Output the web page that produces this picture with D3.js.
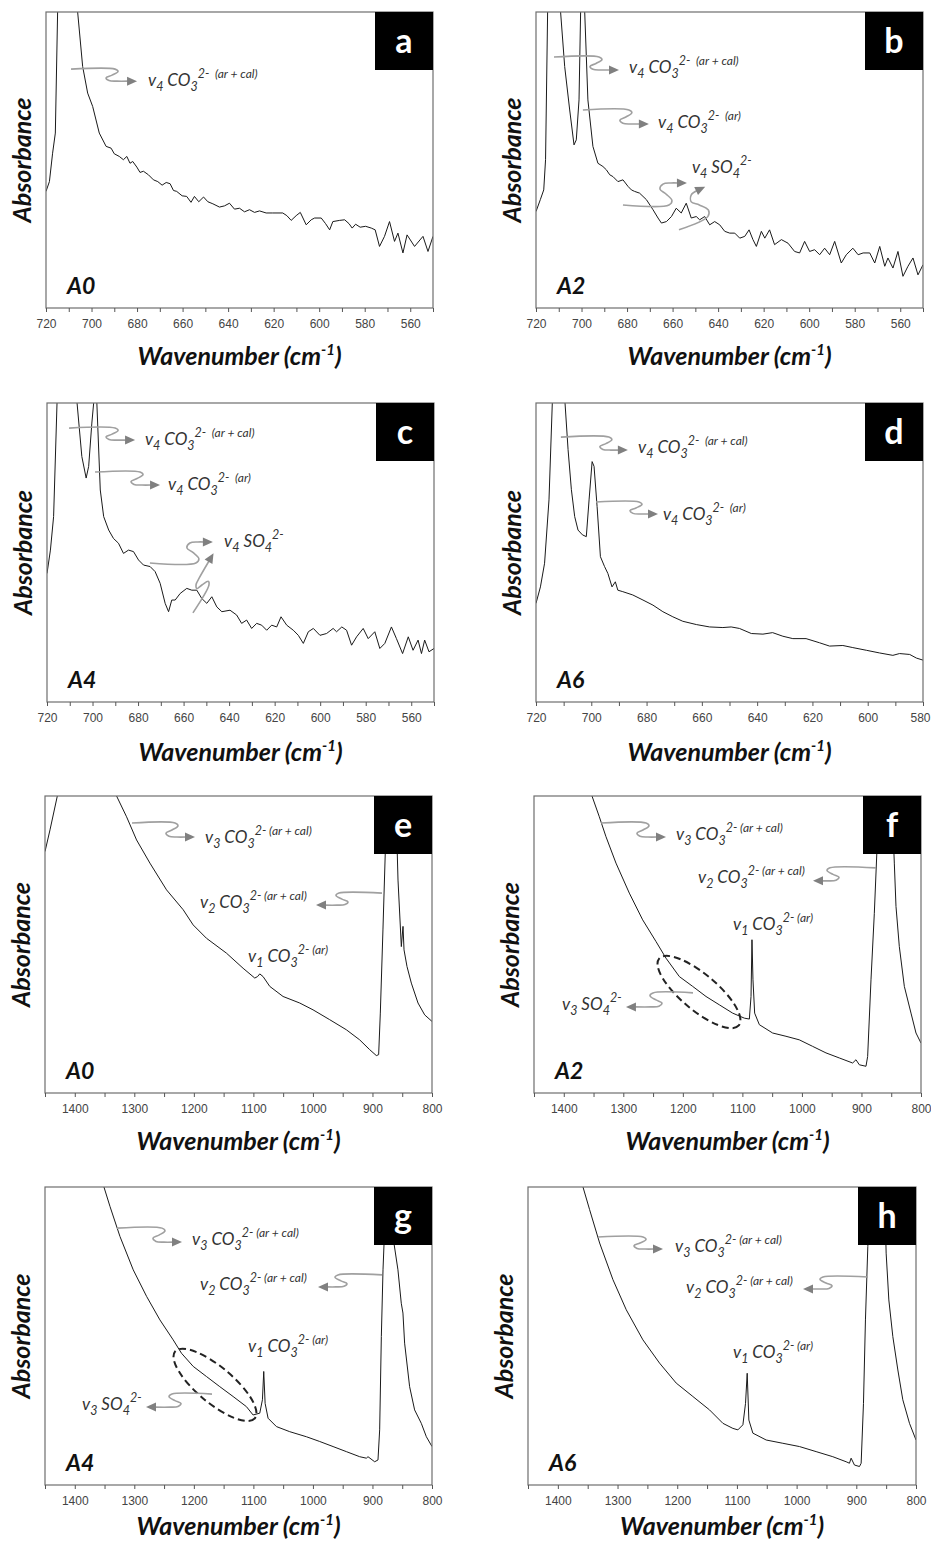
<!DOCTYPE html>
<html>
<head>
<meta charset="utf-8">
<script src="https://cdn.jsdelivr.net/npm/d3@7"></script>
<style>
  body { margin: 0; background: #fff; }
  svg { display: block; font-family: Lato, "Open Sans", sans-serif; }
  .note { white-space: pre; }
</style>
</head>
<body>
<svg id="chart" width="931" height="1546"></svg>
<script>
// spectra: [wavenumber (cm-1), relative absorbance (1 = top of frame)]
const specA0Low = [[720,.394],[718.5,.427],[717.1,.523],[715.9,.591],[714.9,1.0],[712,1.9],[709,1.9],[706.1,1.0],[703.9,.816],[701.7,.726],[699.5,.681],[696.6,.591],[693.6,.546],[691.4,.540],[690,.521],[687.8,.512],[686,.501],[684.5,.512],[683.1,.489],[681.9,.495],[680.1,.476],[678.7,.458],[677.2,.462],[675,.450],[672.8,.433],[670.9,.427],[669,.415],[667.2,.424],[665.5,.420],[664,.397],[662.6,.394],[660.2,.379],[658.2,.377],[656.3,.357],[654.8,.377],[652.9,.359],[650.8,.375],[648.9,.359],[646.7,.352],[643.8,.341],[641.6,.345],[639.4,.354],[637.2,.334],[635,.337],[632.8,.325],[630.6,.332],[628.4,.323],[626.2,.328],[623.3,.321],[620.4,.321],[616,.321],[614.2,.312],[612.3,.296],[610.1,.312],[608.3,.323],[605.7,.281],[603.5,.298],[602,.304],[599.1,.304],[597.2,.285],[595.4,.264],[594,.292],[591,.296],[588.8,.298],[586.9,.285],[585.5,.270],[584,.283],[582,.273],[579.6,.276],[577.1,.270],[575.4,.264],[573.5,.208],[571.3,.242],[569.1,.292],[566.9,.225],[565.4,.253],[563.2,.186],[561.4,.247],[558.1,.208],[554.4,.242],[552.2,.191],[550,.242]];

const specA2Low = [[720,.326],[718.1,.366],[716.6,.399],[715.8,.501],[714.9,1.0],[712.5,1.9],[710.5,1.9],[709.2,1.0],[707.4,.816],[705.2,.669],[703.3,.551],[702.3,.568],[701.1,.703],[700.4,1.0],[699.5,1.5],[698.6,1.0],[697.2,.703],[695,.546],[692.8,.489],[690.6,.478],[689.1,.467],[687.6,.450],[686.2,.444],[684,.427],[681.8,.433],[679.6,.411],[678.1,.399],[676.7,.394],[674.5,.388],[671.5,.366],[668.6,.332],[666.4,.304],[664.9,.287],[662.7,.292],[660.5,.309],[658.4,.337],[656.2,.321],[654,.354],[651.8,.304],[649.6,.309],[648.1,.298],[645.9,.309],[643.7,.281],[641.5,.292],[639.3,.281],[637.1,.259],[634.9,.253],[632.7,.253],[630.5,.236],[628.3,.242],[626.4,.264],[624.7,.231],[623.2,.208],[621,.259],[619.5,.236],[617.4,.264],[615.2,.214],[612.2,.231],[609.3,.219],[606.4,.191],[604.2,.186],[602,.225],[599.8,.191],[597.6,.197],[595.4,.180],[593.2,.202],[591,.180],[588.8,.225],[585.9,.152],[583.7,.180],[580.8,.202],[578.5,.180],[576.3,.186],[573.4,.186],[571.2,.152],[569,.208],[566.8,.141],[565.4,.169],[563.2,.135],[561,.191],[558.8,.107],[556.6,.141],[554.4,.169],[552.2,.112],[550,.146]];

const specA4Low = [[720,.43],[718.5,.508],[717.1,.62],[715.6,1.0],[713,1.9],[710,1.9],[706.8,1.0],[704.7,.821],[702.8,.749],[701.7,.788],[700.3,.933],[699.5,1.0],[698.8,1.4],[698.1,1.0],[696.6,.709],[695.1,.62],[692.9,.575],[690.8,.547],[688.6,.531],[686.4,.497],[684.2,.508],[682,.503],[679.8,.475],[677.6,.458],[674.7,.453],[672.5,.436],[670.3,.397],[668.1,.33],[666.6,.302],[665.2,.341],[663.7,.341],[661.5,.363],[658.6,.38],[656.4,.374],[654.2,.374],[652,.346],[649.8,.33],[647.6,.352],[645.4,.318],[643.2,.302],[639.6,.307],[636.7,.291],[634.5,.263],[632.3,.274],[630.1,.246],[627.9,.263],[625.7,.257],[623.5,.24],[621.3,.257],[619.1,.251],[617.2,.285],[614.7,.257],[611.8,.24],[609.6,.223],[607.4,.196],[605.2,.235],[603,.246],[600.1,.223],[597.2,.229],[594.3,.246],[592.8,.235],[590.5,.251],[588.4,.24],[586.2,.19],[584,.218],[581.1,.246],[578.9,.212],[576,.235],[573.8,.179],[571.6,.196],[568.7,.251],[566.5,.212],[563.8,.162],[561.3,.218],[559.2,.173],[557,.207],[555.5,.162],[554.1,.207],[552.2,.168],[550,.179]];

const specA6Low = [[720,.33],[718.4,.385],[716.9,.464],[715.3,.676],[714.1,1.0],[712.5,1.9],[711,1.9],[709.5,1.0],[708.4,.844],[707.2,.71],[706,.62],[704.8,.575],[703.2,.559],[701.8,.553],[700.8,.676],[699.7,.804],[699,.788],[697.9,.654],[696.7,.486],[695.2,.453],[694,.43],[692.5,.385],[691.3,.402],[690.4,.374],[688.6,.369],[685,.358],[681.3,.341],[677.7,.324],[674.1,.302],[670.5,.285],[666.9,.27],[662,.259],[657.2,.251],[652.4,.249],[649.4,.251],[646.4,.246],[642.1,.229],[637.9,.227],[634.4,.232],[630.7,.22],[627.1,.212],[622.3,.212],[617.4,.198],[613.8,.187],[609,.189],[605.4,.182],[600.5,.173],[595.7,.164],[590.9,.156],[588.5,.162],[584.8,.159],[582.4,.147],[580,.14]];

const specA0High = [[1450,.813],[1441.6,.886],[1429.3,1.0],[1410,1.6],[1380,1.8],[1350,1.5],[1329.8,1.0],[1313,.93],[1296.2,.852],[1273.8,.774],[1245.9,.684],[1217.9,.617],[1201.2,.566],[1178.8,.521],[1145.3,.471],[1117.3,.42],[1097.7,.387],[1093,.392],[1089.3,.401],[1083.7,.392],[1072.5,.359],[1050.2,.325],[1022.2,.303],[999.8,.28],[971.9,.247],[943.9,.213],[921.5,.179],[904.7,.146],[893.5,.126],[889.6,.129],[886.8,.269],[882.4,.549],[878.5,.807],[876.8,1.0],[872,1.9],[866,1.9],[861,1.0],[857.1,.717],[851.5,.493],[848.7,.561],[847,.482],[842,.426],[834.7,.37],[823.5,.303],[812.3,.263],[800,.241]];

const specA2High = [[1450,1.6],[1400,1.8],[1370,1.3],[1352.6,1.0],[1340.3,.93],[1329.1,.863],[1312.3,.774],[1289.9,.673],[1267.5,.583],[1245.1,.51],[1228.3,.454],[1205.9,.392],[1183.5,.359],[1161.1,.325],[1138.8,.297],[1116.4,.269],[1096.7,.252],[1088.3,.249],[1085.5,.325],[1083.9,.516],[1082.2,.381],[1079.4,.269],[1071.5,.23],[1049.2,.202],[1026.8,.191],[1004.4,.179],[982,.157],[959.6,.135],[937.2,.118],[914.8,.101],[909.2,.112],[903.6,.095],[892.4,.09],[889.6,.123],[884,.381],[878.4,.605],[872.8,.874],[870,1.0],[866,1.9],[852,1.9],[847.6,1.0],[845.9,.83],[844.8,.774],[842,.628],[836.4,.493],[828,.359],[816.8,.269],[808.4,.202],[800,.168]];

const specA4High = [[1450,1.6],[1400,1.8],[1370,1.3],[1351,1.0],[1340.9,.935],[1324.1,.834],[1301.8,.722],[1279.4,.633],[1257,.554],[1234.7,.487],[1220.7,.442],[1201.1,.398],[1178.8,.364],[1156.4,.33],[1134.1,.297],[1111.7,.263],[1100.5,.235],[1089.3,.241],[1084.8,.286],[1082.6,.381],[1080.3,.274],[1075.3,.224],[1061.3,.196],[1039,.179],[1011,.162],[988.6,.146],[966.2,.129],[943.9,.112],[921.5,.095],[910.3,.09],[907.5,.095],[896.3,.078],[890.7,.084],[887.9,.185],[885.1,.498],[882.3,.722],[876.8,1.0],[874,1.6],[871,1.6],[868.4,1.0],[865.6,.834],[857.2,.722],[851.6,.61],[848.8,.577],[846,.476],[837.6,.33],[829.2,.252],[818,.207],[809.5,.162],[800,.129]];

const specA6High = [[1450,1.6],[1400,1.8],[1375,1.3],[1357.9,1.0],[1346.8,.924],[1330,.812],[1307.7,.689],[1285.4,.588],[1257.5,.487],[1229.6,.409],[1201.7,.342],[1173.8,.297],[1145.9,.252],[1123.5,.207],[1106.8,.19],[1098.4,.185],[1090,.202],[1085.6,.274],[1082.8,.375],[1080,.218],[1073.3,.174],[1051,.151],[1023.1,.14],[995.2,.129],[967.3,.112],[939.4,.095],[917,.078],[911.5,.073],[908.7,.09],[903.1,.067],[894.7,.062],[891.9,.073],[888,.274],[884.7,.554],[880.7,.8],[875.1,1.0],[870,1.9],[858,1.9],[852.8,1.0],[850,.778],[845.5,.621],[838.8,.498],[830.4,.386],[822.1,.286],[810.9,.207],[800,.151]];

// tick values
const ticksLow = [720,700,680,660,640,620,600,580,560];
const ticksLowMinor = [710,690,670,650,630,610,590,570,550];
const ticksLowD = [720,700,680,660,640,620,600,580];
const ticksLowDMinor = [710,690,670,650,630,610,590];
const ticksHigh = [1400,1300,1200,1100,1000,900,800];
const ticksHighMinor = [1450,1350,1250,1150,1050,950,850];

// band labels: [text, role]
const v4CO3all = [["v",""],["4","sub"],[" CO",""],["3","sub"],["2-","sup"],["  (ar + cal)","note"]];
const v4CO3ar  = [["v",""],["4","sub"],[" CO",""],["3","sub"],["2-","sup"],["  (ar)","note"]];
const v4SO4    = [["v",""],["4","sub"],[" SO",""],["4","sub"],["2-","sup"]];
const v3CO3all = [["v",""],["3","sub"],[" CO",""],["3","sub"],["2-","sup"],[" (ar + cal)","note"]];
const v2CO3all = [["v",""],["2","sub"],[" CO",""],["3","sub"],["2-","sup"],[" (ar + cal)","note"]];
const v1CO3ar  = [["v",""],["1","sub"],[" CO",""],["3","sub"],["2-","sup"],[" (ar)","note"]];
const v3SO4    = [["v",""],["3","sub"],[" SO",""],["4","sub"],["2-","sup"]];

// annotations, anchored in data units
const notesA = [
  {kind:"arrow", at:[709,0.807], L:44, D:12, T:22, dir:1},
  {kind:"text", at:[675.2,0.75], label:v4CO3all}
];
const notesB = [
  {kind:"arrow", at:[712.1,0.848], L:45, D:13, T:20, dir:1},
  {kind:"text", at:[679.1,0.794], label:v4CO3all},
  {kind:"arrow", at:[699.4,0.669], L:46, D:14, T:20, dir:1},
  {kind:"text", at:[666.4,0.608], label:v4CO3ar},
  {kind:"text", at:[651.5,0.456], label:v4SO4},
  {kind:"arrow", at:[681.8,0.348], L:46, D:-22, T:18, dir:1},
  {kind:"arrow", at:[657.2,0.264], L:32, D:-28, T:10, dir:1, rot:-25}
];
const notesC = [
  {kind:"arrow", at:[710.3,0.916], L:46, D:12, T:20, dir:1},
  {kind:"text", at:[677,0.86], label:v4CO3all},
  {kind:"arrow", at:[698.9,0.769], L:45, D:13, T:20, dir:1},
  {kind:"text", at:[666.8,0.709], label:v4CO3ar},
  {kind:"text", at:[642.2,0.518], label:v4SO4},
  {kind:"arrow", at:[674.8,0.465], L:46, D:-21, T:17, dir:1},
  {kind:"arrow", at:[655.9,0.298], L:32, D:-12, T:30, dir:1, rot:-60}
];
const notesD = [
  {kind:"arrow", at:[711,0.886], L:48, D:13, T:19, dir:1},
  {kind:"text", at:[683.1,0.833], label:v4CO3all},
  {kind:"arrow", at:[698.3,0.669], L:43, D:12, T:19, dir:1},
  {kind:"text", at:[674.1,0.609], label:v4CO3ar}
];
const notesE = [
  {kind:"arrow", at:[1303.9,0.909], L:43, D:14, T:20, dir:1},
  {kind:"text", at:[1181.3,0.842], label:v3CO3all},
  {kind:"arrow", at:[884,0.673], L:43, D:12, T:23, dir:-1},
  {kind:"text", at:[1189.7,0.623], label:v2CO3all},
  {kind:"text", at:[1109,0.441], label:v1CO3ar}
];
const notesF = [
  {kind:"arrow", at:[1337.5,0.909], L:45, D:14, T:20, dir:1},
  {kind:"text", at:[1211.5,0.852], label:v3CO3all},
  {kind:"arrow", at:[875.6,0.758], L:46, D:13, T:17, dir:-1},
  {kind:"text", at:[1174.6,0.707], label:v2CO3all},
  {kind:"text", at:[1115.8,0.549], label:v1CO3ar},
  {kind:"ellipse", at:[1172.9,0.34]},
  {kind:"arrow", at:[1183,0.337], L:40, D:14, T:27, dir:-1},
  {kind:"text", at:[1403,0.279], label:v3SO4}
];
const notesG = [
  {kind:"arrow", at:[1329.1,0.862], L:45, D:14, T:20, dir:1},
  {kind:"text", at:[1203.1,0.805], label:v3CO3all},
  {kind:"arrow", at:[884,0.705], L:44, D:12, T:20, dir:-1},
  {kind:"text", at:[1189.7,0.654], label:v2CO3all},
  {kind:"text", at:[1109,0.446], label:v1CO3ar},
  {kind:"ellipse", at:[1164.5,0.336]},
  {kind:"arrow", at:[1169.5,0.305], L:40, D:13, T:26, dir:-1},
  {kind:"text", at:[1387.9,0.252], label:v3SO4}
];
const notesH = [
  {kind:"arrow", at:[1332.7,0.832], L:45, D:12, T:20, dir:1},
  {kind:"text", at:[1203.7,0.782], label:v3CO3all},
  {kind:"arrow", at:[880.4,0.698], L:45, D:12, T:20, dir:-1},
  {kind:"text", at:[1185.3,0.644], label:v2CO3all},
  {kind:"text", at:[1106.6,0.426], label:v1CO3ar}
];

const panels = [
  {letter:"a", sample:"A0", left:46,  top:12,   width:387, height:296, domain:[720,550],  ticks:ticksLow,  minor:ticksLowMinor,  spec:specA0Low,  notes:notesA, titleGap:57},
  {letter:"b", sample:"A2", left:536, top:12,   width:387, height:296, domain:[720,550],  ticks:ticksLow,  minor:ticksLowMinor,  spec:specA2Low,  notes:notesB, titleGap:57},
  {letter:"c", sample:"A4", left:47,  top:403,  width:387, height:299, domain:[720,550],  ticks:ticksLow,  minor:ticksLowMinor,  spec:specA4Low,  notes:notesC, titleGap:59},
  {letter:"d", sample:"A6", left:536, top:403,  width:387, height:299, domain:[720,580],  ticks:ticksLowD, minor:ticksLowDMinor, spec:specA6Low,  notes:notesD, titleGap:59},
  {letter:"e", sample:"A0", left:45,  top:796,  width:387, height:297, domain:[1450,800], ticks:ticksHigh, minor:ticksHighMinor, spec:specA0High, notes:notesE, titleGap:57},
  {letter:"f", sample:"A2", left:534, top:796,  width:387, height:297, domain:[1450,800], ticks:ticksHigh, minor:ticksHighMinor, spec:specA2High, notes:notesF, titleGap:57},
  {letter:"g", sample:"A4", left:45,  top:1187, width:387, height:298, domain:[1450,800], ticks:ticksHigh, minor:ticksHighMinor, spec:specA4High, notes:notesG, titleGap:50},
  {letter:"h", sample:"A6", left:528, top:1187, width:388, height:298, domain:[1450,800], ticks:ticksHigh, minor:ticksHighMinor, spec:specA6High, notes:notesH, titleGap:50}
];

const svg = d3.select("#chart");
const defs = svg.append("defs");

const roleShift = {"":0, sub:5, sup:-8, note:-8};
const roleSize = {"":17, sub:12.5, sup:12.5, note:12};

function bandLabel(g, x, y, parts) {
  const t = g.append("text")
    .attr("class", "note")
    .attr("x", x).attr("y", y)
    .attr("font-style", "italic")
    .attr("fill", "#333");
  let shift = 0;
  parts.forEach(([txt, role]) => {
    t.append("tspan")
      .attr("dy", roleShift[role] - shift)
      .attr("font-size", roleSize[role])
      .text(txt);
    shift = roleShift[role];
  });
}

function squiggle(g, x, y, n) {
  const d = n.dir, L = n.L, D = n.D, T = n.T;
  const pts = [[0,0],[L,0],[L+3,0.2*D],[L-3,0.5*D],[L-9,0.72*D],[L-6,0.95*D],[L+2,D],[L+T-9,D]]
    .map(p => [p[0]*d, p[1]]);
  const a = g.append("g")
    .attr("transform", `translate(${x},${y}) rotate(${n.rot || 0})`);
  a.append("path")
    .attr("d", d3.line().curve(d3.curveCatmullRom.alpha(0.5))(pts))
    .attr("fill", "none")
    .attr("stroke", "#a0a0a0")
    .attr("stroke-width", 1.6);
  const tip = (L+T)*d;
  a.append("path")
    .attr("d", `M${tip},${D} L${tip-10*d},${D-4.5} L${tip-10*d},${D+4.5} Z`)
    .attr("fill", "#808080");
}

panels.forEach((p, i) => {
  const right = p.left + p.width, bottom = p.top + p.height;
  const x = d3.scaleLinear().domain(p.domain).range([p.left, right]);
  const y = d3.scaleLinear().domain([0, 1]).range([bottom, p.top]);

  defs.append("clipPath").attr("id", "clip" + i)
    .append("rect")
    .attr("x", p.left).attr("y", p.top)
    .attr("width", p.width).attr("height", p.height);

  const g = svg.append("g");

  // spectrum
  g.append("path")
    .datum(p.spec)
    .attr("clip-path", `url(#clip${i})`)
    .attr("fill", "none")
    .attr("stroke", "#1a1a1a")
    .attr("stroke-width", 1)
    .attr("stroke-linejoin", "round")
    .attr("d", d3.line().x(d => x(d[0])).y(d => y(d[1])));

  // frame
  g.append("rect")
    .attr("x", p.left).attr("y", p.top)
    .attr("width", p.width).attr("height", p.height)
    .attr("fill", "none")
    .attr("stroke", "#6e6e6e")
    .attr("stroke-width", 1.2);

  // x axis
  const ax = g.append("g")
    .attr("transform", `translate(0,${bottom})`)
    .call(d3.axisBottom(x).tickValues(p.ticks).tickSize(4).tickPadding(7).tickFormat(d3.format("d")));
  ax.select(".domain").remove();
  ax.selectAll(".tick line").attr("stroke", "#555");
  ax.selectAll(".tick text")
    .attr("fill", "#444")
    .attr("font-size", 12)
    .attr("font-family", "'Liberation Sans', Arial, sans-serif")
    // keep a label that sits on the page edge fully visible
    .attr("dx", d => (x(d) + 10 > 931 ? -3 : 0));

  const mx = g.append("g")
    .attr("transform", `translate(0,${bottom})`)
    .call(d3.axisBottom(x).tickValues(p.minor).tickSize(4).tickFormat(""));
  mx.select(".domain").remove();
  mx.selectAll(".tick line").attr("stroke", "#555");

  // axis titles
  const title = g.append("text")
    .attr("x", p.left + p.width / 2)
    .attr("y", bottom + p.titleGap)
    .attr("text-anchor", "middle")
    .attr("font-size", 25)
    .attr("font-weight", "bold")
    .attr("font-style", "italic")
    .attr("fill", "#111")
    .text("Wavenumber (cm");
  title.append("tspan").attr("dy", -10).attr("font-size", 15).text("-1");
  title.append("tspan").attr("dy", 10).text(")");

  g.append("text")
    .attr("transform", `translate(${p.left - 24},${p.top + p.height / 2}) rotate(-90)`)
    .attr("dy", "0.35em")
    .attr("text-anchor", "middle")
    .attr("font-size", 25)
    .attr("font-weight", "bold")
    .attr("font-style", "italic")
    .attr("fill", "#111")
    .text("Absorbance");

  // sample name
  g.append("text")
    .attr("x", p.left + 21)
    .attr("y", bottom - 14)
    .attr("font-size", 23)
    .attr("font-weight", "bold")
    .attr("font-style", "italic")
    .attr("fill", "#111")
    .text(p.sample);

  // annotations
  p.notes.forEach(n => {
    const px = x(n.at[0]), py = y(n.at[1]);
    if (n.kind === "text") bandLabel(g, px, py, n.label);
    else if (n.kind === "arrow") squiggle(g, px, py, n);
    else if (n.kind === "ellipse") {
      g.append("ellipse")
        .attr("transform", `translate(${px},${py}) rotate(40)`)
        .attr("rx", 52).attr("ry", 18)
        .attr("fill", "none")
        .attr("stroke", "#222")
        .attr("stroke-width", 2)
        .attr("stroke-dasharray", "7,4");
    }
  });

  // panel letter
  g.append("rect")
    .attr("x", right - 58).attr("y", p.top)
    .attr("width", 58).attr("height", 58)
    .attr("fill", "#000");
  g.append("text")
    .attr("x", right - 29).attr("y", p.top + 29)
    .attr("dy", "0.36em")
    .attr("text-anchor", "middle")
    .attr("font-size", 34)
    .attr("font-weight", "bold")
    .attr("fill", "#fff")
    .text(p.letter);
});
</script>
</body>
</html>
